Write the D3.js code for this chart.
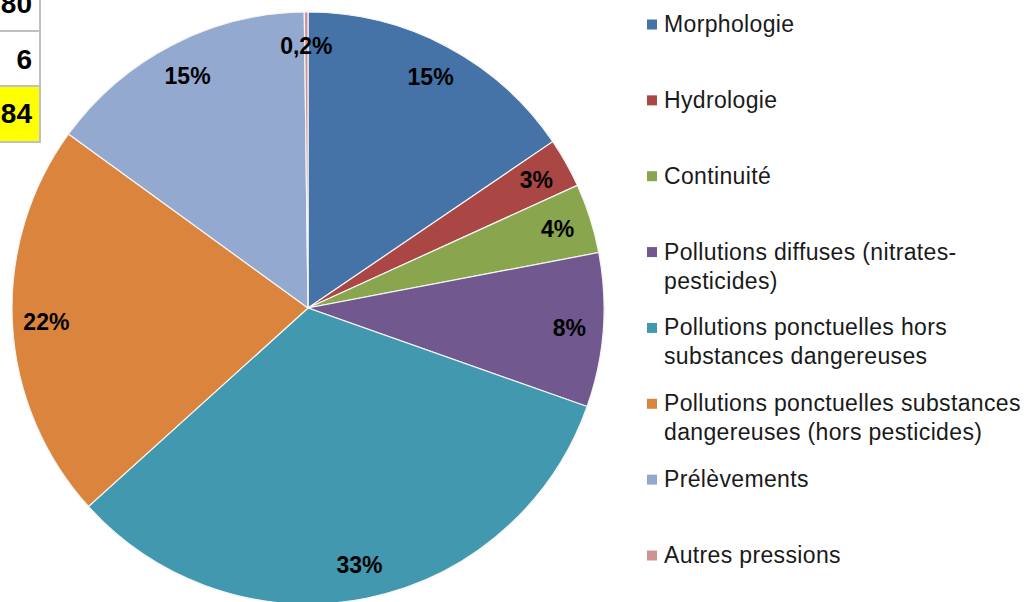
<!DOCTYPE html>
<html>
<head>
<meta charset="utf-8">
<script src="https://cdn.jsdelivr.net/npm/d3@7"></script>
<style>
  html, body { margin: 0; padding: 0; background: #fff; }
  svg { display: block; font-family: "Liberation Sans", Arial, sans-serif; }
</style>
</head>
<body>
<div id="chart"></div>
<script>
// Pressures on water bodies — share of each category
const categories = [
    'Morphologie',
    'Hydrologie',
    'Continuité',
    'Pollutions diffuses (nitrates-|pesticides)',
    'Pollutions ponctuelles hors|substances dangereuses',
    'Pollutions ponctuelles substances|dangereuses (hors pesticides)',
    'Prélèvements',
    'Autres pressions'
];
const values = [15.5, 2.7, 3.8, 8.4, 32.9, 21.7, 14.8, 0.2];
const valueLabels = ['15%', '3%', '4%', '8%', '33%', '22%', '15%', '0,2%'];
const colors = ['#4572A7', '#AA4643', '#89A54E', '#71588F', '#4198AF', '#DB843D', '#93A9CF', '#D19392'];

// Partial spreadsheet cells visible in the top-left corner
const tableValues = ['80', '6', '84'];
const tableFills = ['#FFFFFF', '#FFFFFF', '#FFFF00'];

(function () {
    const width = 1026, height = 602;
    const cx = 308, cy = 308, radius = 296;

    const svg = d3.select('#chart').append('svg')
        .attr('width', width)
        .attr('height', height);

    // Pie
    const pie = d3.pie().sort(null).value(d => d);
    const arcs = pie(values);
    const arc = d3.arc().innerRadius(0).outerRadius(radius);
    const labelArc = d3.arc().innerRadius(262).outerRadius(262);

    const g = svg.append('g').attr('transform', `translate(${cx},${cy})`);

    g.selectAll('path')
        .data(arcs)
        .join('path')
        .attr('d', arc)
        .attr('fill', (d, i) => colors[i])
        .attr('stroke', '#f4f4f4')
        .attr('stroke-width', 1.2);

    g.selectAll('text')
        .data(arcs)
        .join('text')
        .attr('transform', d => `translate(${labelArc.centroid(d)})`)
        .attr('text-anchor', 'middle')
        .attr('dy', '0.36em')
        .attr('font-size', '23px')
        .attr('font-weight', 'bold')
        .attr('fill', '#000')
        .text((d, i) => valueLabels[i]);

    // Table cells (cropped)
    const rowEdges = [-30, 31, 86, 142];
    const table = svg.append('g');
    tableValues.forEach((v, i) => {
        table.append('rect')
            .attr('x', -5)
            .attr('y', rowEdges[i])
            .attr('width', 45)
            .attr('height', rowEdges[i + 1] - rowEdges[i])
            .attr('fill', tableFills[i])
            .attr('stroke', '#C0C0C0')
            .attr('stroke-width', 2);
    });
    const tableBaselines = [13, 69, 123];
    table.selectAll('text')
        .data(tableValues)
        .join('text')
        .attr('x', 32)
        .attr('y', (d, i) => tableBaselines[i])
        .attr('text-anchor', 'end')
        .attr('font-size', '28px')
        .attr('font-weight', 'bold')
        .attr('fill', '#000')
        .text(d => d);

    // Legend
    const ly = d3.scalePoint().domain(d3.range(categories.length)).range([24, 555]);
    const legend = svg.append('g')
        .selectAll('g')
        .data(categories)
        .join('g')
        .attr('transform', (d, i) => `translate(0,${ly(i)})`);

    legend.append('rect')
        .attr('x', 647)
        .attr('y', -4.5)
        .attr('width', 10)
        .attr('height', 10)
        .attr('fill', (d, i) => colors[i]);

    legend.each(function (d) {
        const t = d3.select(this).append('text')
            .attr('font-size', '23px')
            .attr('letter-spacing', '0.35px')
            .attr('fill', '#1a1a1a');
        d.split('|').forEach((line, j) => {
            t.append('tspan')
                .attr('x', 664)
                .attr('y', 8 + j * 29)
                .text(line);
        });
    });
})();
</script>
</body>
</html>
